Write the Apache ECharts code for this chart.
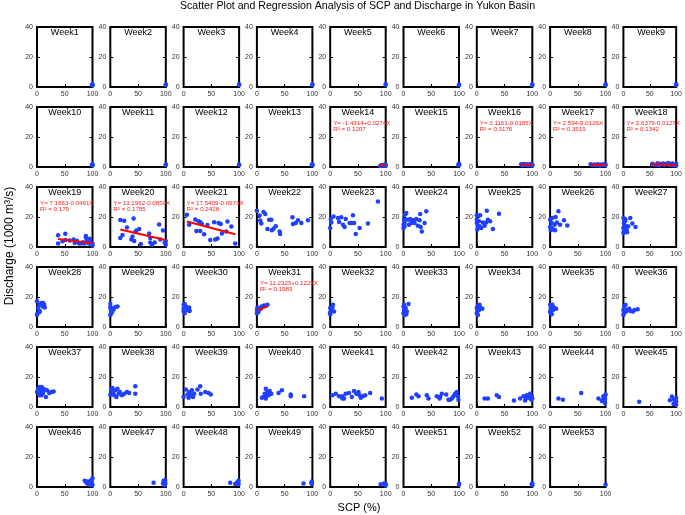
<!DOCTYPE html>
<html>
<head>
<meta charset="utf-8">
<script src="https://cdn.jsdelivr.net/npm/echarts@6/dist/echarts.min.js"></script>
<style>html,body{margin:0;padding:0;background:#fff;}#c{width:685px;height:515px;}</style>
</head>
<body>
<div id="c"></div>
<script>
const chartTitle = 'Scatter Plot and Regression Analysis of SCP and Discharge in Yukon Basin';
const xLabel = 'SCP (%)';
const yLabel = 'Discharge (1000 m³/s)';
const weekNames = Array.from({length: 53}, (_, i) => 'Week' + (i + 1));
const xTickValues = [0, 50, 100];
const yTickValues = [0, 20, 40];

// [SCP (%), Discharge (1000 m3/s)] per week
const weekPoints = [
  /*1*/  [[100,1.2],[100,1.8],[99,1.5]],
  /*2*/  [[100,1.3],[100,1.8]],
  /*3*/  [[100,1.3],[100,1.8]],
  /*4*/  [[100,1.3],[100,1.8]],
  /*5*/  [[100,1.3],[100,1.8]],
  /*6*/  [[100,1.3],[100,1.7]],
  /*7*/  [[100,1.3],[100,1.7]],
  /*8*/  [[100,1.3],[100,1.8]],
  /*9*/  [[100,1.3],[100,1.8]],
  /*10*/ [[100,1.2],[100,1.8],[99,1.5]],
  /*11*/ [[100,1.3],[100,1.8]],
  /*12*/ [[100,1.3],[100,1.7]],
  /*13*/ [[100,1.2],[100,1.8],[99,1.5]],
  /*14*/ [[90,0.6],[92,1.2],[94,0.8],[96,1.4],[98,1.0],[99,1.6],[100,0.8],[100,1.3]],
  /*15*/ [[100,1.2],[100,1.8],[99,1.5],[100,2.2]],
  /*16*/ [[80,1.8],[82,1.2],[85,2.0],[88,1.3],[90,1.9],[92,1.1],[95,1.6],[97,2.0],[98,1.2],[100,1.5],[100,1.0]],
  /*17*/ [[73,1.8],[76,1.3],[80,1.6],[83,1.1],[86,1.9],[88,1.4],[90,1.0],[92,1.7],[95,1.3],[97,1.9],[99,1.1],[100,1.5]],
  /*18*/ [[55,2.2],[62,1.5],[65,2.5],[68,1.2],[70,2.0],[75,2.3],[78,1.4],[80,2.0],[85,2.6],[88,1.3],[90,1.9],[93,2.4],[95,1.1],[97,1.6],[100,2.2],[100,1.0]],
  /*19*/ [[38,7.8],[38,2.3],[46,3.9],[51,4.6],[51,8.9],[59,4.3],[66,5.0],[68,2.7],[72,4.1],[76,2.3],[80,2.3],[83,3.2],[86,2.3],[88,7.3],[88,6.2],[90,3.9],[94,2.3],[95,5.5],[96,3.9],[98,1.6],[100,2.3],[100,1.0]],
  /*20*/ [[18,18],[25,17.5],[18,6],[22,8],[30,13],[38,5],[42,19],[40,7],[45,10],[47,11],[52,12],[55,2],[70,9],[72,6],[72,3],[75,1.5],[80,3],[88,15],[90,5],[95,11],[98,3],[100,1.5],[100,4],[43,4]],
  /*21*/ [[6,21.5],[10,14.9],[21,18.3],[23,10.7],[27,17.1],[30,16.5],[33,15.3],[30,10.7],[37,8.5],[43,14.6],[48,4.6],[55,16.5],[57,5],[61,5.7],[63,16],[67,15.3],[69,9],[77,10.3],[79,17],[86,13.7],[93,2.3]],
  /*22*/ [[0,24.2],[5,21],[6,17.6],[8,15.6],[12,23.3],[15,22],[19,12],[22,18.2],[26,18.2],[27,11.1],[30,12.2],[34,13.8],[41,10.4],[42,8.7],[64,19.8],[65,15.3],[70,16],[74,17.8],[80,16],[92,17.8]],
  /*23*/ [[0,12.7],[1,18.7],[2,16.4],[6,20.4],[14,19.3],[16,16.7],[20,19.8],[23,14.9],[26,13.3],[28,18.7],[35,16],[38,16],[41,21.1],[43,16],[46,8.7],[53,12.7],[68,15.6],[86,30.4]],
  /*24*/ [[0,12.7],[1,18.2],[2,16],[3,21.6],[5,22.7],[8,18.2],[10,14.9],[12,18.7],[14,16],[17,17.8],[20,16],[23,18.7],[26,14.2],[29,17.8],[30,22],[31,13.3],[33,10.4],[38,16],[41,23.8],[0,14.9],[2,13.8]],
  /*25*/ [[0,21.1],[0,16],[1,11.6],[2,13.8],[4,17.1],[6,21.1],[8,12.7],[11,16.4],[14,14.2],[17,16.4],[18,24.2],[20,18.2],[24,17.1],[29,12],[40,22.2],[5,13.8],[0,18.2]],
  /*26*/ [[0,18.2],[0,13.3],[1,11.1],[3,16],[4,19.3],[6,11.6],[8,14.9],[10,20],[12,16.4],[15,23.8],[18,14.9],[25,17.8],[31,14.4],[3,12.7],[9,11.1]],
  /*27*/ [[0,19.3],[0,12.7],[1,16],[1,10.4],[3,14.2],[4,18.2],[6,11.6],[7,9.8],[9,13.8],[13,19.3],[17,15.6],[23,13.3],[3,17.1],[0,9.3]],
  /*28*/ [[0,17.1],[1,9.1],[2,12.6],[4,14.9],[5,10.7],[8,16],[10,13.7],[13,14.9],[14,13],[0,8],[4,9.8],[11,16]],
  /*29*/ [[0,15.3],[0,8],[1,11.4],[2,12.6],[4,10.7],[6,11.9],[9,13.3],[13,13.7],[0,13],[2,9.1]],
  /*30*/ [[0,14.9],[0,10.3],[1,12.6],[2,9.1],[4,13.7],[7,11.4],[10,13],[11,10.7],[0,12.2],[2,15.3]],
  /*31*/ [[0,11.4],[0,9.1],[1,13],[3,10.7],[5,12.6],[9,13.7],[13,14.4],[19,14.9],[2,9.8],[7,12.1]],
  /*32*/ [[0,12.6],[0,9.8],[2,11.4],[5,14.9],[7,10.3],[0,8.5],[4,13]],
  /*33*/ [[0,13.7],[0,9.1],[1,11.4],[2,8],[4,12.6],[6,10.3],[9,15.3],[1,14.9],[5,8.5]],
  /*34*/ [[0,12.6],[0,9.1],[1,10.7],[2,14.4],[4,11.4],[7,12.6],[10,12.1],[2,8],[5,14.9]],
  /*35*/ [[0,14.9],[0,10.3],[1,12.6],[3,8.5],[5,11.4],[7,13],[11,12.1],[1,9.1],[4,14.9]],
  /*36*/ [[0,11.4],[0,8],[2,13.7],[4,14.9],[5,10.3],[7,11.4],[11,12.1],[13,10.7],[18,10.3],[21,11.4],[27,11.9],[1,9.1]],
  /*37*/ [[0,10],[2,12.2],[4,13.3],[5,8.9],[7,11.1],[8,7.8],[10,12.7],[11,9.3],[14,11.6],[16,6.7],[18,11.1],[22,9.3],[26,10],[30,10.4],[4,7.8],[8,13.3]],
  /*38*/ [[0,8.2],[2,11.6],[4,12.7],[5,9.3],[7,7.8],[9,11.1],[11,6.7],[13,12.2],[15,8.9],[17,10],[21,7.8],[25,8.9],[30,10],[34,9.3],[45,13.8],[45,8.9]],
  /*39*/ [[0,6.7],[4,11.6],[7,8.4],[9,6.2],[10,10],[13,7.8],[15,11.1],[17,6.7],[19,8.9],[25,11.6],[30,13.8],[31,8.9],[39,10],[45,9.3],[49,8.4],[11,9.3]],
  /*40*/ [[9,6.2],[12,6.7],[14,8.9],[16,12.2],[16,5.6],[19,10],[21,7.8],[23,10.7],[26,8.9],[39,9.3],[45,11.1],[61,8.4],[61,7.1],[85,7.1],[18,7.8]],
  /*41*/ [[4,7.8],[10,8.9],[16,7.1],[22,5.6],[28,8.9],[22,7.1],[25,5.6],[34,9.3],[39,6.7],[43,10.7],[47,8.9],[51,10],[53,7.8],[55,6.2],[59,7.1],[63,7.8],[72,9.3],[93,5.6]],
  /*42*/ [[15,6.2],[23,8.4],[27,7.1],[42,7.8],[45,5.6],[60,7.1],[65,5.6],[69,8.9],[77,8.4],[81,4.9],[87,5.6],[90,7.1],[93,8.9],[96,10],[98,7.1],[99,4.9],[66,6.7],[84,4.9]],
  /*43*/ [[14,5.6],[20,5.6],[36,7.8],[40,6.7],[67,4.4],[78,5.6],[84,7.1],[87,4.4],[90,7.8],[93,6.2],[96,8.9],[98,4.9],[99,7.1],[100,5.6],[89,6.2]],
  /*44*/ [[15,5.6],[23,4.9],[56,9.3],[87,5.6],[93,4],[96,7.1],[98,3.3],[99,5.6],[100,8.4],[99,2.7],[95,4.9]],
  /*45*/ [[30,3.5],[88,4.5],[92,7],[95,2],[96,5],[98,3],[100,6],[100,1.5],[99,4],[97,2.5],[100,3.5]],
  /*46*/ [[86,4.2],[89,2.9],[92,2],[94,3.6],[96,1.3],[98,4.7],[99,2.4],[100,5.8],[100,1.3],[90,3.6]],
  /*47*/ [[78,2.9],[95,2.4],[96,4.2],[98,1.3],[99,2.9],[99,4.7],[99,2]],
  /*48*/ [[84,2.9],[93,2],[96,2.9],[98,3.6],[99,2],[99,4.2]],
  /*49*/ [[84,2.4],[98,2.9],[99,2],[99,3.6]],
  /*50*/ [[91,1.8],[97,2.4],[99,1.5],[100,2.2],[100,1]],
  /*51*/ [[100,2.4],[100,1.5]],
  /*52*/ [[100,2.4],[100,1.2],[99,1.8]],
  /*53*/ [[100,1.5]]
];

// regression annotations
const regWeeks = [14, 16, 17, 18, 19, 20, 21, 31];
const regEquations = ['Y= -1.4314+0.0274X', 'Y= 3.1161-0.0185X', 'Y= 2.594-0.0126X', 'Y= 2.6379-0.0127X',
                      'Y= 7.1663-0.0461X', 'Y= 13.1962-0.0850X', 'Y= 17.5409-0.0973X', 'Y= 11.2323+0.1223X'];
const regR2 = ['0.1207', '0.3176', '0.3519', '0.1342', '0.179', '0.1785', '0.2428', '0.1989'];
// fitted line end points [x1, y1, x2, y2]
const regLines = [[89,1.01,100,1.31],[80,1.64,100,1.27],[73,1.67,100,1.33],[55,1.94,100,1.37],
                  [38,5.41,100,2.56],[18,11.67,100,4.70],[6,16.96,93,8.49],[0,11.23,19,13.56]];

const NCOL = 9;
const X0 = 37, DX = 73.3, Y0 = 27, DY = 80, W = 55.5, H = 60;
const FONT = 'Liberation Sans, Arial, Helvetica, sans-serif';

const grids = [], xAxes = [], yAxes = [], series = [], graphics = [];
const n = weekNames.length;
for (let i = 0; i < n; i++) {
  const r = Math.floor(i / NCOL), c = i % NCOL;
  const left = X0 + c * DX, top = Y0 + r * DY;
  grids.push({left: left, top: top, width: W, height: H, show: true, borderColor: '#000', borderWidth: 2, backgroundColor: '#fff'});
  xAxes.push({gridIndex: i, type: 'value', min: xTickValues[0], max: xTickValues[2], interval: xTickValues[1] - xTickValues[0],
    axisLine: {show: false}, splitLine: {show: false},
    axisTick: {inside: true, length: 3, lineStyle: {color: '#000', width: 1}},
    axisLabel: {fontSize: 7, color: '#333', margin: 4, fontFamily: FONT}});
  yAxes.push({gridIndex: i, type: 'value', min: yTickValues[0], max: yTickValues[2], interval: yTickValues[1] - yTickValues[0],
    axisLine: {show: false}, splitLine: {show: false},
    axisTick: {inside: true, length: 3, lineStyle: {color: '#000', width: 1}},
    axisLabel: {fontSize: 7, color: '#333', margin: 4, fontFamily: FONT}});
  series.push({type: 'scatter', xAxisIndex: i, yAxisIndex: i, data: weekPoints[i], symbolSize: 4.5,
    itemStyle: {color: '#1f40ff', opacity: 1}, z: 2, silent: true});
  graphics.push({type: 'text', x: left + W / 2, y: top + 5.5, z: 10,
    style: {text: weekNames[i], font: '9px ' + FONT, fill: '#000', textAlign: 'center', textVerticalAlign: 'middle'}});
}
// right-side y axes (tick marks only)
for (let i = 0; i < n; i++) {
  yAxes.push({gridIndex: i, type: 'value', position: 'right', min: yTickValues[0], max: yTickValues[2], interval: yTickValues[1] - yTickValues[0],
    axisLine: {show: false}, splitLine: {show: false}, axisLabel: {show: false},
    axisTick: {inside: true, length: 3, lineStyle: {color: '#000', width: 1}}});
}
regWeeks.forEach((wk, k) => {
  const i = wk - 1;
  const r = Math.floor(i / NCOL), c = i % NCOL;
  const left = X0 + c * DX, top = Y0 + r * DY;
  const L = regLines[k];
  series.push({type: 'line', xAxisIndex: i, yAxisIndex: i, data: [[L[0], L[1]], [L[2], L[3]]],
    symbol: 'none', lineStyle: {color: '#ff0000', width: 2}, z: 3, silent: true});
  graphics.push({type: 'text', x: left + 3, y: top + 16, z: 10,
    style: {text: regEquations[k], font: '6.2px ' + FONT, fill: '#ff2020', textAlign: 'left', textVerticalAlign: 'middle'}});
  graphics.push({type: 'text', x: left + 3, y: top + 22, z: 10,
    style: {text: 'R² = ' + regR2[k], font: '6.2px ' + FONT, fill: '#ff2020', textAlign: 'left', textVerticalAlign: 'middle'}});
});
graphics.push({type: 'text', x: 357.5, y: 6.5, style: {text: chartTitle, font: '10.6px ' + FONT, fill: '#000', textAlign: 'center', textVerticalAlign: 'middle'}});
graphics.push({type: 'text', x: 359, y: 507.5, style: {text: xLabel, font: '11px ' + FONT, fill: '#000', textAlign: 'center', textVerticalAlign: 'middle'}});
graphics.push({type: 'text', x: 10, y: 246, rotation: Math.PI / 2, style: {text: yLabel, font: '12px ' + FONT, fill: '#000', textAlign: 'center', textVerticalAlign: 'middle'}});

const chart = echarts.init(document.getElementById('c'), null, {renderer: 'canvas'});
chart.setOption({
  animation: false,
  backgroundColor: '#fff',
  grid: grids, xAxis: xAxes, yAxis: yAxes, series: series, graphic: graphics
});
</script>
</body>
</html>
